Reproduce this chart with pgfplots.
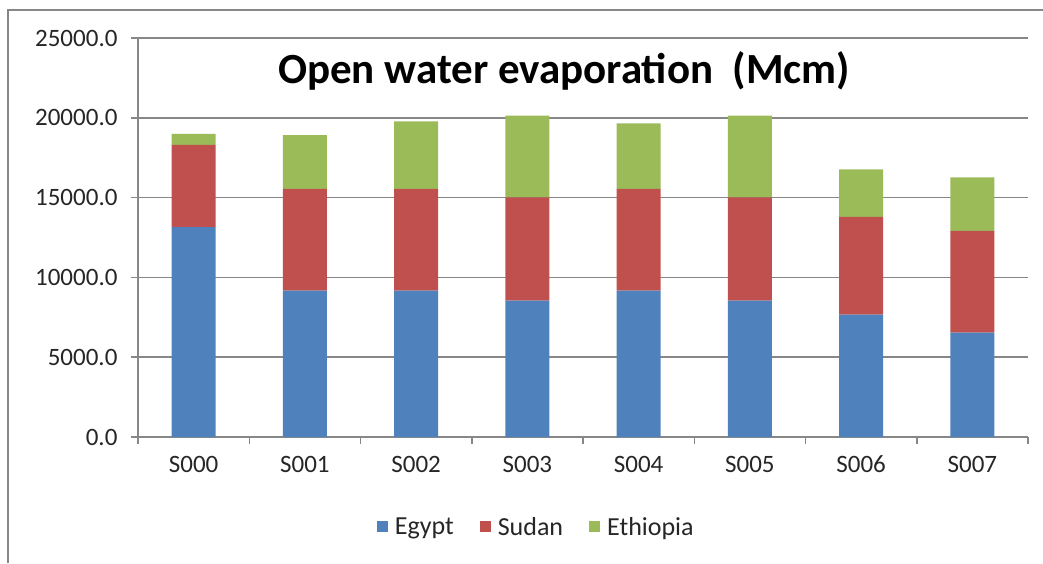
\documentclass[border=0pt]{standalone}
\usepackage{pgfplots}
\pgfplotsset{compat=1.18}
\usepackage{pgfplotstable}
\usepackage{fontspec}
\setmainfont{Carlito}
\definecolor{cEgypt}{HTML}{4F81BD}
\definecolor{cSudan}{HTML}{C0504D}
\definecolor{cEth}{HTML}{9BBB59}
\definecolor{gridc}{HTML}{878787}
\pgfplotstableread{
x egypt sudan ethiopia
0 13150 5150 700
1 9170 6370 3380
2 9170 6370 4230
3 8540 6480 5120
4 9170 6370 4110
5 8540 6480 5120
6 7670 6120 2980
7 6540 6380 3350
}\data
\begin{document}
\begin{tikzpicture}[x=1pt,y=1pt]
\useasboundingbox (0,0) rectangle (1043,563);
\draw[gridc, line width=1.2pt] (8,0) -- (8,553) -- (1043,553);
\begin{axis}[
  at={(138pt,126pt)}, anchor=south west,
  scale only axis, width=890pt, height=399pt,
  ybar stacked, bar width=44pt,
  xmin=-0.5, xmax=7.5, ymin=0, ymax=25000,
  axis x line*=bottom, axis y line*=left,
  axis line style={gridc, line width=1.5pt},
  ytick={0,5000,...,25000},
  yticklabel={\pgfmathprintnumber[fixed,fixed zerofill,precision=1,1000 sep={},assume math mode=true]{\tick}},
  scaled y ticks=false,
  ymajorgrids, major grid style={gridc, line width=1.5pt},
  tick align=outside, major tick length=7pt,
  tick style={gridc, line width=1.5pt},
  xtick={-0.5,0.5,1.5,2.5,3.5,4.5,5.5,6.5,7.5},
  xticklabels={},
  extra x ticks={0,1,2,3,4,5,6,7},
  extra x tick labels={S000,S001,S002,S003,S004,S005,S006,S007},
  extra x tick style={major tick length=0pt, grid=none},
  tick label style={font=\fontsize{25}{29}\selectfont, text=black!85},
  yticklabel style={xshift=-10pt},
  xticklabel style={yshift=-15pt, text height=17pt, text depth=0pt},
  title={\bfseries Open water evaporation~~(Mcm)},
  title style={at={(0.4787,0.902)}, anchor=center, font=\fontsize{43}{50}\selectfont},
  legend columns=3,
  legend style={draw=none, fill=none, at={(0.4475,-0.2256)}, anchor=center,
    font=\fontsize{26}{30}\selectfont, text=black!85,
    /tikz/every odd column/.append style={column sep=5pt},
    /tikz/every even column/.append style={column sep=24pt}},
  legend image code/.code={\fill[#1] (0pt,-5pt) rectangle (11pt,6pt);},
]
\addplot[fill=cEgypt, draw=none] table[x=x,y=egypt]{\data};
\addplot[fill=cSudan, draw=none] table[x=x,y=sudan]{\data};
\addplot[fill=cEth, draw=none] table[x=x,y=ethiopia]{\data};
\legend{Egypt,Sudan,Ethiopia}
\end{axis}
\end{tikzpicture}
\end{document}
